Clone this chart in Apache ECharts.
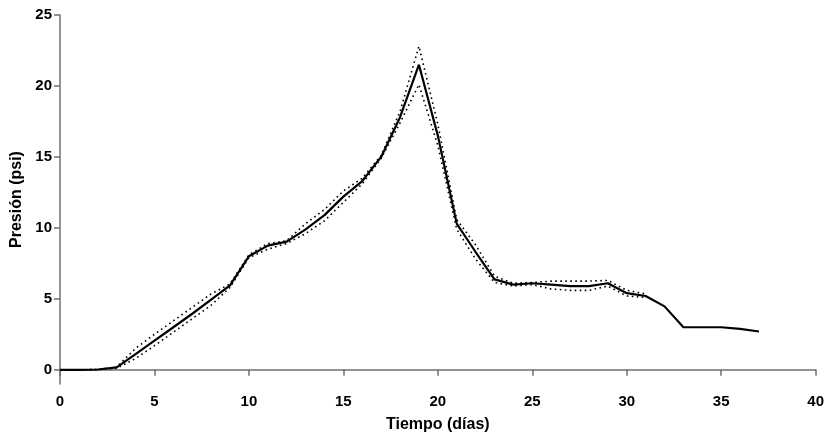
<!DOCTYPE html>
<html>
<head>
<meta charset="utf-8">
<script src="https://cdn.jsdelivr.net/npm/echarts@6/dist/echarts.min.js"></script>
<style>html,body{margin:0;padding:0;background:#fff}#c{width:827px;height:438px}</style>
</head>
<body>
<div id="c"></div>
<script>
const days = [0,1,2,3,4,5,6,7,8,9,10,11,12,13,14,15,16,17,18,19,20,21,22,23,24,25,26,27,28,29,30,31,32,33,34,35,36,37];
const meanP = [0,0,0.02,0.17,1.1,2.05,3.0,3.95,4.95,5.95,8.0,8.75,9.03,9.9,10.9,12.2,13.3,15.0,17.8,21.5,16.5,10.3,8.3,6.37,6.0,6.1,6.0,5.9,5.9,6.1,5.4,5.2,4.47,3.0,3.0,3.0,2.88,2.7];
const upperDays = [0,1,2,3,4,5,6,7,8,9,10,11,12,13,14,15,16,17,18,19,20,21,22,23,24,25,26,27,28,29,30,31];
const upperP = [0,0,0.02,0.2,1.5,2.5,3.45,4.4,5.35,6.05,8.1,8.9,9.1,10.3,11.3,12.6,13.5,15.1,18.2,22.8,17.3,10.6,8.8,6.6,6.1,6.15,6.25,6.25,6.25,6.3,5.6,5.35];
const lowerP = [0,0,0.02,0.1,0.8,1.7,2.65,3.6,4.55,5.8,7.9,8.5,8.9,9.6,10.5,11.8,13.1,14.9,17.4,20.1,15.8,9.9,7.8,6.15,5.9,6.0,5.7,5.6,5.6,5.9,5.2,5.1];
const xTicks = [0,5,10,15,20,25,30,35,40];
const yTicks = [0,5,10,15,20,25];

const pair = (xs, ys) => xs.map((x, i) => [x, ys[i]]);
const font = '"Liberation Sans", Arial, sans-serif';
const chart = echarts.init(document.getElementById('c'), null, {renderer: 'canvas'});
chart.setOption({
  animation: false,
  backgroundColor: '#fff',
  grid: {left: 60, right: 9, top: 15, bottom: 52, containLabel: false},
  xAxis: {
    type: 'value', min: 0, max: 40, interval: 5,
    name: 'Tiempo (días)', nameLocation: 'middle', nameGap: 33,
    nameTextStyle: {fontFamily: font, fontWeight: 'bold', fontSize: 16, color: '#000'},
    axisLine: {show: true, lineStyle: {color: '#707070', width: 1.5}},
    axisTick: {show: true, length: 6, lineStyle: {color: '#707070', width: 1.5}, customValues: xTicks},
    axisLabel: {fontFamily: font, fontWeight: 'bold', fontSize: 15, color: '#000', margin: 10, customValues: xTicks},
    splitLine: {show: false}
  },
  yAxis: {
    type: 'value', min: -1, max: 25,
    name: 'Presión (psi)', nameLocation: 'middle', nameGap: 32, nameRotate: 90,
    nameTextStyle: {fontFamily: font, fontWeight: 'bold', fontSize: 16, color: '#000'},
    axisLine: {show: true, lineStyle: {color: '#707070', width: 1.5}},
    axisTick: {show: true, length: 6, lineStyle: {color: '#707070', width: 1.5}, customValues: yTicks},
    axisLabel: {fontFamily: font, fontWeight: 'bold', fontSize: 15, color: '#000', margin: 8, customValues: yTicks},
    splitLine: {show: false}
  },
  series: [
    {type: 'line', data: pair(upperDays, upperP), showSymbol: false, symbol: 'none',
     lineStyle: {color: '#000', width: 1.6, type: [1.6, 3.4]}, z: 2},
    {type: 'line', data: pair(upperDays, lowerP), showSymbol: false, symbol: 'none',
     lineStyle: {color: '#000', width: 1.6, type: [1.6, 3.4]}, z: 2},
    {type: 'line', data: pair(days, meanP), showSymbol: false, symbol: 'none',
     lineStyle: {color: '#000', width: 2.2}, z: 3}
  ]
});
</script>
</body>
</html>
